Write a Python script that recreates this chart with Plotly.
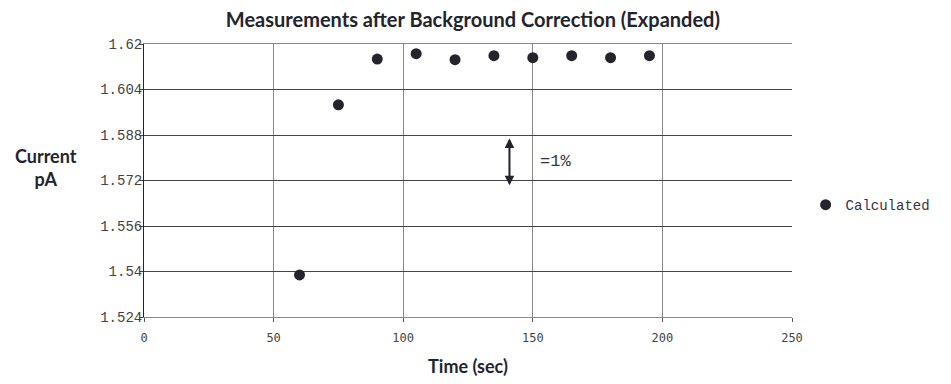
import plotly.graph_objects as go

time_sec = [60, 75, 90, 105, 120, 135, 150, 165, 180, 195]
current_pa = [1.5388, 1.5986, 1.6147, 1.6166, 1.6145, 1.6159, 1.6152, 1.6159, 1.6152, 1.6159]
y_ticks = [1.524, 1.54, 1.556, 1.572, 1.588, 1.604, 1.62]
y_tick_labels = ["1.524", "1.54", "1.556", "1.572", "1.588", "1.604", "1.62"]
x_ticks = [0, 50, 100, 150, 200, 250]
arrow_x = 141
arrow_low, arrow_high = 1.5703, 1.5868
arrow_label = "=1%"

fig = go.Figure()
fig.add_trace(go.Scatter(
    x=time_sec, y=current_pa, mode="markers", name="Calculated",
    marker=dict(color="#23242c", size=11),
))

# double-headed arrow
fig.add_annotation(x=arrow_x, y=arrow_high, ax=arrow_x, ay=arrow_low, xref="x", yref="y",
                   axref="x", ayref="y", showarrow=True, arrowhead=2, arrowsize=1.2,
                   arrowwidth=1.6, arrowcolor="#23242c", text="")
fig.add_annotation(x=arrow_x, y=arrow_low, ax=arrow_x, ay=arrow_high, xref="x", yref="y",
                   axref="x", ayref="y", showarrow=True, arrowhead=2, arrowsize=1.2,
                   arrowwidth=1.6, arrowcolor="#23242c", text="")
fig.add_annotation(x=arrow_x + 11, y=(arrow_low + arrow_high) / 2, xref="x", yref="y",
                   text=arrow_label, showarrow=False, xanchor="left",
                   font=dict(family="Liberation Mono", size=17, color="#333344"))

fig.add_annotation(x=0, y=0.5, xref="paper", yref="paper", xanchor="center", yanchor="middle",
                   text="<b>Current<br>pA</b>", showarrow=False,
                   xshift=-98, yshift=13,
                   font=dict(family="Lato", size=18, color="#23242c"))

fig.update_layout(
    width=943, height=376,
    margin=dict(l=136, r=159, t=36, b=67, autoexpand=False),
    paper_bgcolor="white", plot_bgcolor="white",
    title=dict(text="<b>Measurements after Background Correction (Expanded)</b>",
               x=0.493, xanchor="center", y=0.967, yanchor="middle",
               font=dict(family="Lato", size=20, color="#23242c")),
    showlegend=True,
    legend=dict(x=1.021, y=0.41, xanchor="left", yanchor="middle",
                font=dict(family="Liberation Mono", size=14, color="#333344"),
                itemwidth=30, bgcolor="rgba(0,0,0,0)"),
    xaxis=dict(range=[0, 250], tickvals=x_ticks, showgrid=True, gridcolor="#8a8a8a",
               gridwidth=1, zeroline=False, showline=True, linecolor="#8a8a8a", mirror=True,
               ticks="outside", ticklen=4, tickcolor="#555", ticklabelstandoff=6,
               tickfont=dict(family="DejaVu Sans Mono", size=12, color="#444"),
               title=dict(text="<b>Time (sec)</b>", font=dict(family="Lato", size=18, color="#23242c"),
                          standoff=15)),
    yaxis=dict(range=[1.524, 1.62], tickvals=y_ticks, ticktext=y_tick_labels, showgrid=True,
               gridcolor="#444", gridwidth=1, zeroline=False, showline=True, linecolor="#23242c",
               ticks="outside", ticklen=4, tickcolor="#444", ticklabelstandoff=-6,
               tickfont=dict(family="Liberation Mono", size=14, color="#444")),
)

fig.write_html("out.html")
